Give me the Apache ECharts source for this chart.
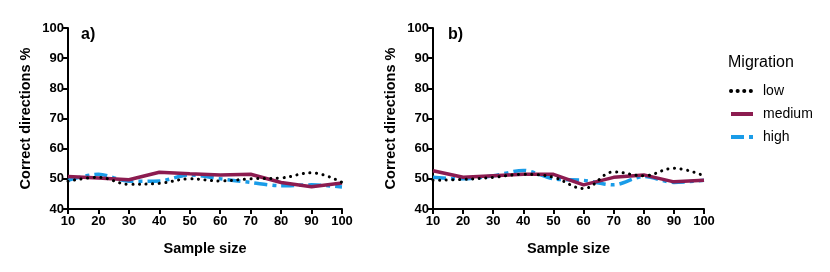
<!DOCTYPE html>
<html><head><meta charset="utf-8">
<script src="https://cdn.jsdelivr.net/npm/echarts@6/dist/echarts.min.js"></script>
<style>html,body{margin:0;padding:0;background:#fff}#c{width:830px;height:272px}</style>
</head><body><div id="c"></div>
<script>
const sampleSizes = [10,20,30,40,50,60,70,80,90,100];
const lowA    = [49.2,50.5,48.2,48.5,50.0,49.3,50.0,50.3,52.0,48.8];
const mediumA = [50.8,50.3,49.7,52.2,51.7,51.3,51.5,48.8,47.4,48.6];
const highA   = [49.5,51.5,49.2,49.3,51.3,50.0,48.8,47.7,48.0,47.3];
const lowB    = [49.5,49.8,50.5,51.5,50.5,46.8,52.3,51.0,53.5,51.0];
const mediumB = [52.7,50.5,51.0,51.5,51.5,48.0,50.5,51.3,49.0,49.5];
const highB   = [50.5,50.0,51.0,52.8,50.0,49.5,48.0,50.8,48.8,49.5];
const yTicks = [40,50,60,70,80,90,100];
const panelLabels = ['a)','b)'];

const F = 'Liberation Sans, Arial, Helvetica, sans-serif';
const zip = arr => sampleSizes.map((x,i)=>[x,arr[i]]);
const styles = {
  low: {color:'#000', lineStyle:{color:'#000', width:3, type:[0.1,6.5], cap:'round'}, smooth:0.4},
  medium: {color:'#8c1c50', lineStyle:{color:'#8c1c50', width:3.5, type:'solid'}, smooth:false},
  high: {color:'#1a9ce8', lineStyle:{color:'#1a9ce8', width:3.5, type:[13,5,4,5], cap:'butt'}, smooth:0.3}
};
function mk(name, data, idx){
  const s = styles[name];
  return {name, type:'line', xAxisIndex:idx, yAxisIndex:idx, data:zip(data), symbol:'none',
    smooth:s.smooth, itemStyle:{color:s.color}, lineStyle:s.lineStyle, z: name==='medium'?3:(name==='high'?2:4)};
}
const axisCommon = {
  axisLine:{show:true, onZero:false, lineStyle:{color:'#000', width:2}},
  axisTick:{show:true, length:5, lineStyle:{color:'#000', width:2}},
  splitLine:{show:false},
  axisLabel:{color:'#000', fontFamily:F, fontWeight:'bold', fontSize:13}
};
function xAx(i){return Object.assign({}, axisCommon, {type:'value', gridIndex:i, min:10, max:100, interval:10,
  name:'Sample size', nameLocation:'middle', nameGap:32,
  nameTextStyle:{color:'#000', fontFamily:F, fontWeight:'bold', fontSize:14.5},
  axisLabel:Object.assign({}, axisCommon.axisLabel, {margin:6})});}
function yAx(i){return Object.assign({}, axisCommon, {type:'value', gridIndex:i, min:yTicks[0], max:yTicks[yTicks.length-1], interval:10,
  name:'Correct directions %', nameLocation:'middle', nameGap:35,
  nameTextStyle:{color:'#000', fontFamily:F, fontWeight:'bold', fontSize:14.5},
  axisLabel:Object.assign({}, axisCommon.axisLabel, {margin:4})});}

const chart = echarts.init(document.getElementById('c'), null, {renderer:'canvas'});
chart.setOption({
  animation:false,
  backgroundColor:'#fff',
  grid:[
    {left:68, right:488, top:28, bottom:63},
    {left:433, right:126, top:28, bottom:63}
  ],
  xAxis:[xAx(0), xAx(1)],
  yAxis:[yAx(0), yAx(1)],
  title:[
    {text:panelLabels[0], left:76, top:22, textStyle:{fontFamily:F, fontWeight:'bold', fontSize:16, color:'#000'}},
    {text:panelLabels[1], left:443, top:22, textStyle:{fontFamily:F, fontWeight:'bold', fontSize:16, color:'#000'}},
    {text:'Migration', left:723, top:50, textStyle:{fontFamily:F, fontWeight:'normal', fontSize:16, color:'#000'}}
  ],
  legend:{
    data:['low','medium','high'], orient:'vertical', left:724, top:79,
    itemWidth:22, itemHeight:10, itemGap:9,
    itemStyle:{opacity:0},
    lineStyle:{width:4},
    textStyle:{fontFamily:F, fontSize:14, color:'#000', padding:[0,0,0,5]}
  },
  series:[
    mk('low', lowA, 0), mk('high', highA, 0), mk('medium', mediumA, 0),
    mk('low', lowB, 1), mk('high', highB, 1), mk('medium', mediumB, 1)
  ]
});
</script></body></html>
